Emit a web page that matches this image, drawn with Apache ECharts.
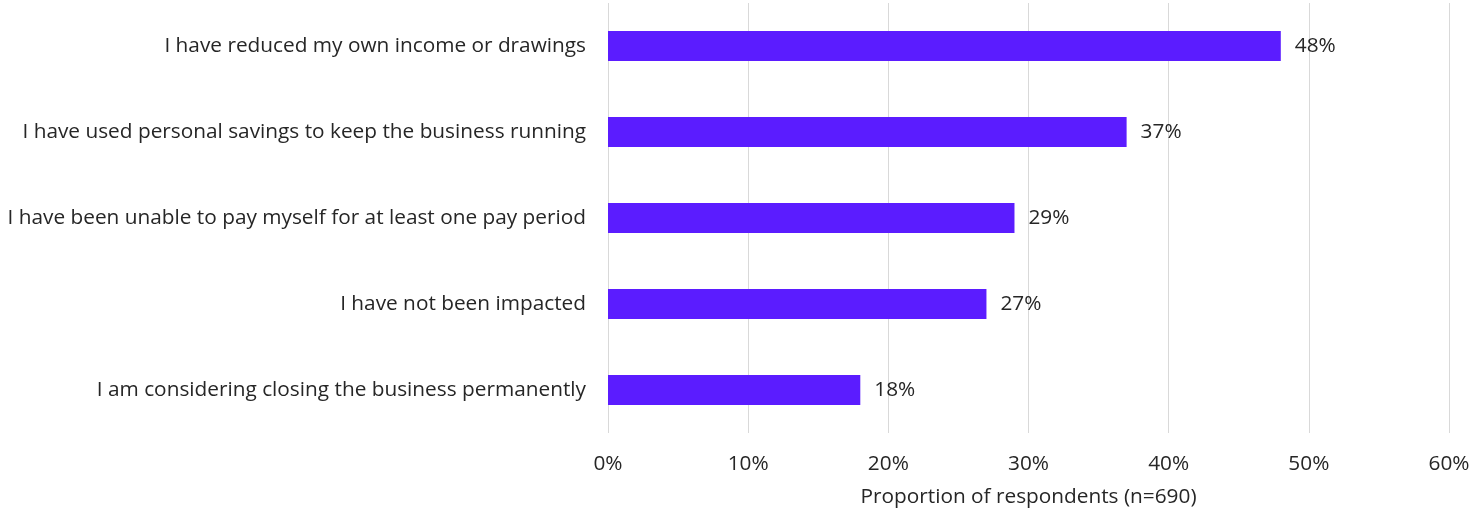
<!DOCTYPE html>
<html>
<head>
<meta charset="utf-8">
<script src="https://cdn.jsdelivr.net/npm/echarts@6/dist/echarts.min.js"></script>
<style>
  html, body { margin: 0; padding: 0; background: #fff; }
  #chart { width: 1470px; height: 512px; }
</style>
</head>
<body>
<div id="chart"></div>
<script>
// Impacts on owners' personal finances, listed top to bottom
const categories = [
  'I have reduced my own income or drawings',
  'I have used personal savings to keep the business running',
  'I have been unable to pay myself for at least one pay period',
  'I have not been impacted',
  'I am considering closing the business permanently'
];
const shares = [48, 37, 29, 27, 18];
const axisTicks = [0, 10, 20, 30, 40, 50, 60];
const axisTitle = 'Proportion of respondents (n=690)';

const FONT = '"Open Sans", "Noto Sans", sans-serif';
const TEXT = '#262626';
const SIZE = 20.8;

const chart = echarts.init(document.getElementById('chart'), null, { renderer: 'canvas' });
chart.setOption({
  animation: false,
  grid: {
    left: 608, right: 21, top: 3, bottom: 79,
    containLabel: false,
    outerBoundsMode: 'none'
  },
  xAxis: {
    type: 'value',
    min: axisTicks[0],
    max: axisTicks[axisTicks.length - 1],
    interval: axisTicks[1] - axisTicks[0],
    axisLine: { show: false },
    axisTick: { show: false },
    splitLine: { show: true, lineStyle: { color: '#d9d9d9', width: 1 } },
    axisLabel: {
      formatter: v => v + '%',
      color: TEXT, fontFamily: FONT, fontSize: SIZE, margin: 21
    },
    name: axisTitle,
    nameLocation: 'middle',
    nameGap: 54,
    nameTextStyle: { color: TEXT, fontFamily: FONT, fontSize: SIZE }
  },
  yAxis: {
    type: 'category',
    inverse: true,
    data: categories,
    axisLine: { show: false },
    axisTick: { show: false },
    splitLine: { show: false },
    axisLabel: { color: TEXT, fontFamily: FONT, fontSize: SIZE, margin: 22 }
  },
  series: [{
    type: 'bar',
    data: shares,
    barWidth: 30,
    itemStyle: { color: '#5b1cff' },
    label: {
      show: true,
      position: 'right',
      distance: 14,
      formatter: p => p.value + '%',
      color: TEXT, fontFamily: FONT, fontSize: SIZE
    }
  }]
});
</script>
</body>
</html>
